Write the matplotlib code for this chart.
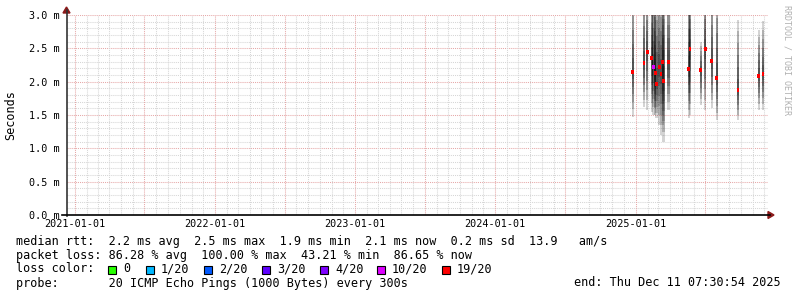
import matplotlib.pyplot as plt
import matplotlib.dates as mdates
from matplotlib.lines import Line2D
from matplotlib.patches import Rectangle, Polygon
import numpy as np
import datetime as dt

# smoke columns (values in ms)
dates = ['2024-12-24', '2025-01-22', '2025-01-31', '2025-02-11', '2025-02-16',
         '2025-02-21', '2025-02-24', '2025-03-03', '2025-03-08', '2025-03-12',
         '2025-03-14', '2025-03-27', '2025-05-19', '2025-05-22', '2025-06-19',
         '2025-07-01', '2025-07-18', '2025-07-31', '2025-09-24', '2025-11-17',
         '2025-11-28']
median = [2.15, 2.28, 2.45, 2.35, 2.22, 2.13, 1.97, 2.22, 2.12, 2.29, 2.01,
          2.29, 2.19, 2.49, 2.17, 2.49, 2.31, 2.05, 1.87, 2.09, 2.11]
smoke_lo = [1.47, 1.62, 1.58, 1.55, 1.50, 1.50, 1.45, 1.35, 1.20, 1.35, 1.10,
            1.58, 1.46, 1.50, 1.65, 1.58, 1.60, 1.42, 1.42, 1.58, 1.58]
smoke_hi = [3.4, 3.4, 3.4, 3.4, 3.4, 3.4, 3.4, 3.4, 3.4, 3.4, 3.4,
            3.4, 3.4, 3.4, 2.60, 3.4, 3.4, 3.4, 2.93, 2.78, 2.91]
loss = [19, 19, 19, 19, 10, 19, 19, 19, 19, 19, 19,
        19, 19, 19, 19, 19, 19, 19, 19, 19, 19]

loss_steps = ['0', '1/20', '2/20', '3/20', '4/20', '10/20', '19/20']
loss_colors = ['#26ff00', '#00b8ff', '#0059ff', '#5e00ff', '#7e00ff', '#dd00ff', '#ff0000']
loss_map = dict(zip([0, 1, 2, 3, 4, 10, 19], loss_colors))

legend_lines = [
    'median rtt:  2.2 ms avg  2.5 ms max  1.9 ms min  2.1 ms now  0.2 ms sd  13.9   am/s',
    'packet loss: 86.28 % avg  100.00 % max  43.21 % min  86.65 % now',
    'loss color:',
    'probe:       20 ICMP Echo Pings (1000 Bytes) every 300s',
]
end_text = 'end: Thu Dec 11 07:30:54 2025'

W, H = 797, 297
fig = plt.figure(figsize=(W / 100, H / 100), dpi=100)
fig.patch.set_facecolor('white')
ax = fig.add_axes([67 / W, 82 / H, 701 / W, 200 / H])
ax.set_facecolor('white')

mono = 'DejaVu Sans Mono'
t0 = dt.datetime(2020, 12, 11, 7, 30)
t1 = dt.datetime(2025, 12, 11, 7, 30)
ax.set_xlim(t0, t1)
ax.set_ylim(0, 3.0)

# grid
dot = (0, (1, 1))
for m in np.arange(0.1, 3.01, 0.1):
    major = abs(m * 2 - round(m * 2)) < 1e-6
    ax.axhline(m, color='#e6a8a8' if major else '#d6d6d6', lw=0.75, ls=dot, zorder=1)
for yr in range(2021, 2026):
    for mo in range(1, 13):
        d = dt.datetime(yr, mo, 1)
        if d > t1:
            continue
        major = mo in (1, 7)
        ax.axvline(d, color='#e6a8a8' if major else '#d6d6d6', lw=0.75, ls=dot, zorder=1)

# smoke
nlay = 6
for d, md, lo, hi, ls in zip(dates, median, smoke_lo, smoke_hi, loss):
    x = mdates.date2num(dt.datetime.strptime(d, '%Y-%m-%d'))
    for k in range(nlay):
        b = lo + k * (md - lo) / nlay
        t = hi - k * (hi - md) / nlay
        ax.bar(x, t - b, bottom=b, width=5.5, color='black', alpha=0.17,
               linewidth=0, zorder=2)
    ax.bar(x, 0.06, bottom=md - 0.03, width=7, color=loss_map[ls], linewidth=0, zorder=3)

# axes styling
for s in ax.spines.values():
    s.set_visible(False)
ax.set_yticks(np.arange(0, 3.01, 0.5))
ax.set_yticklabels(['%.1f m' % v for v in np.arange(0, 3.01, 0.5)])
ax.xaxis.set_major_locator(mdates.YearLocator())
ax.xaxis.set_major_formatter(mdates.DateFormatter('%Y-%m-%d'))
ax.tick_params(axis='both', length=0, labelsize=7.3, labelcolor='black', pad=5)
for lbl in ax.get_xticklabels() + ax.get_yticklabels():
    lbl.set_family(mono)
ax.tick_params(axis='x', pad=3)

# axis lines with arrows
fx = lambda px: px / W
fy = lambda py: 1 - py / H
fig.add_artist(Line2D([fx(66.5), fx(66.5)], [fy(216), fy(10)], color='#333333', lw=1.2))
fig.add_artist(Line2D([fx(62), fx(770)], [fy(215), fy(215)], color='black', lw=1.2))
fig.add_artist(Polygon([[fx(63), fy(13)], [fx(70), fy(13)], [fx(66.5), fy(7)]],
                       closed=True, color='#8b1a1a', transform=fig.transFigure))
fig.add_artist(Polygon([[fx(768), fy(211.5)], [fx(768), fy(218.5)], [fx(774), fy(215)]],
                       closed=True, color='#8b1a1a', transform=fig.transFigure))

# labels
fig.text(fx(11), fy(115), 'Seconds', rotation=90, ha='center', va='center',
         family=mono, fontsize=8.5)
fig.text(fx(787), fy(5), 'RRDTOOL / TOBI OETIKER', rotation=270, ha='center', va='top',
         family=mono, fontsize=6, color='#b0b0b0')

# legend
ys = [241, 255, 269, 283]
for txt, yy in zip(legend_lines, ys):
    fig.text(fx(16), fy(yy), txt, ha='left', va='center', family=mono, fontsize=8.5)
fig.text(fx(781), fy(283), end_text, ha='right', va='center', family=mono, fontsize=8.5)

sw_x = [108, 146, 204, 262, 320, 377, 442]
for sx, c, lab in zip(sw_x, loss_colors, loss_steps):
    fig.add_artist(Rectangle((fx(sx), fy(273.5)), 8 / W, 8 / H, facecolor=c,
                             edgecolor='black', lw=0.8, transform=fig.transFigure))
    fig.text(fx(sx + 15), fy(269), lab, ha='left', va='center', family=mono, fontsize=8.5)

fig.savefig('out.png', dpi=100, facecolor='white')
